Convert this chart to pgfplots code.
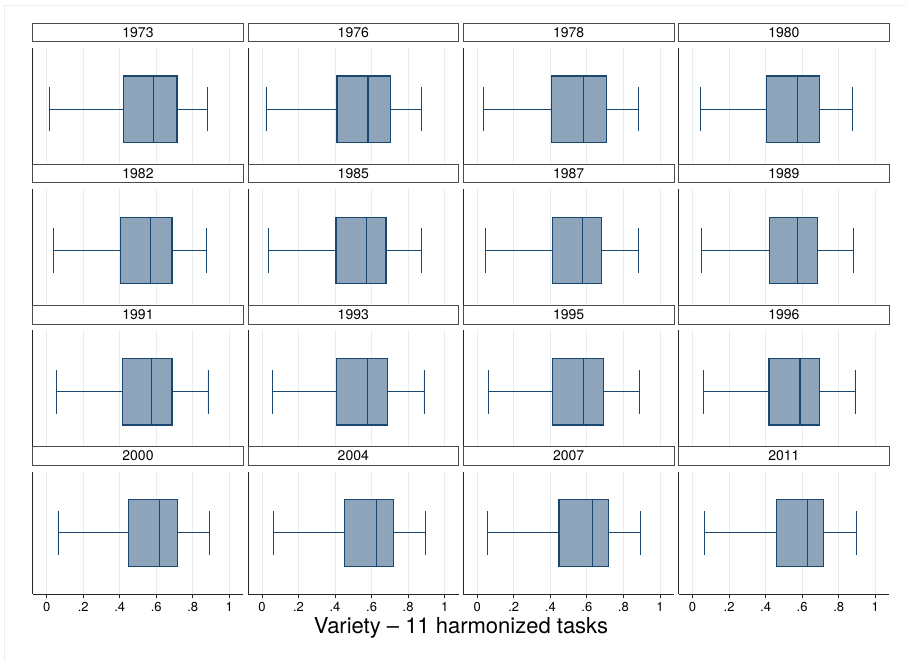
\documentclass[border=0pt]{standalone}
\usepackage{pgfplots}
\pgfplotsset{compat=1.18}
\usepgfplotslibrary{statistics}
\usepackage{fontspec}
\setmainfont{TeX Gyre Heros}
\definecolor{boxfill}{RGB}{142,164,186}
\definecolor{navy}{RGB}{26,71,111}
\definecolor{gridc}{RGB}{228,237,240}
\definecolor{framec}{RGB}{232,240,241}
\pgfplotsset{
  panel/.style={
    scale only axis, width=210.6pt, height=122.7pt,
    anchor=south west,
    xmin=-0.0765, xmax=1.0765, ymin=0, ymax=1,
    axis lines*=left,
    ytick=\empty,
    xtick={0,0.2,0.4,0.6,0.8,1},
    xmajorgrids, grid style={gridc, line width=0.8pt},
    axis line style={black!85, line width=0.8pt},
    title style={at={(0.5,1)}, anchor=south, draw=black!70, line width=0.8pt,
      fill=white, minimum width=210.6pt, minimum height=18.6pt, inner sep=0pt,
      font=\fontsize{14}{14}\selectfont, yshift=0pt},
  },
  toprow/.style={x axis line style={draw=none}, xticklabels={}, major tick length=0pt},
  botrow/.style={xticklabels={0,.2,.4,.6,.8,1}, tick align=outside, major tick length=4pt,
    xticklabel style={font=\fontsize{13}{13}\selectfont},
    tick style={black!85, line width=0.8pt}},
}
\newcommand\panel[9]{%
\begin{axis}[panel,#3,title={#4},
  at={({32.7pt+215.3pt*#1},{661pt-170.7pt-141.2pt*#2})}]
\addplot[draw=navy, fill=boxfill, line width=1.2pt,
  boxplot/every whisker/.style={line width=0.9pt},
  boxplot/every median/.style={line width=1.2pt},
  boxplot prepared={lower whisker=#5, lower quartile=#6, median=#7,
    upper quartile=#8, upper whisker=#9, draw position=0.5,
    box extend=0.543, whisker extend=0.36, draw direction=x}] coordinates {};
\end{axis}}
\begin{document}
\begin{tikzpicture}
\useasboundingbox (0,0) rectangle (906pt,661pt);
\fill[white] (0,0) rectangle (906pt,661pt);
\draw[framec, line width=1pt] (4pt,0) -- (4pt,655.5pt) -- (906pt,655.5pt);
\panel{0}{0}{toprow}{1973}{0.016}{0.422}{0.583}{0.714}{0.882}
\panel{1}{0}{toprow}{1976}{0.022}{0.411}{0.580}{0.703}{0.874}
\panel{2}{0}{toprow}{1978}{0.033}{0.408}{0.581}{0.708}{0.885}
\panel{3}{0}{toprow}{1980}{0.042}{0.404}{0.574}{0.694}{0.878}
\panel{0}{1}{toprow}{1982}{0.036}{0.404}{0.570}{0.686}{0.874}
\panel{1}{1}{toprow}{1985}{0.034}{0.405}{0.571}{0.679}{0.872}
\panel{2}{1}{toprow}{1987}{0.047}{0.411}{0.577}{0.681}{0.880}
\panel{3}{1}{toprow}{1989}{0.049}{0.421}{0.576}{0.683}{0.880}
\panel{0}{2}{toprow}{1991}{0.056}{0.417}{0.575}{0.686}{0.883}
\panel{1}{2}{toprow}{1993}{0.060}{0.407}{0.579}{0.689}{0.887}
\panel{2}{2}{toprow}{1995}{0.062}{0.413}{0.583}{0.692}{0.889}
\panel{3}{2}{toprow}{1996}{0.060}{0.418}{0.588}{0.694}{0.889}
\panel{0}{3}{botrow}{2000}{0.062}{0.446}{0.618}{0.716}{0.893}
\panel{1}{3}{botrow}{2004}{0.061}{0.454}{0.629}{0.720}{0.893}
\panel{2}{3}{botrow}{2007}{0.056}{0.447}{0.630}{0.717}{0.895}
\panel{3}{3}{botrow}{2011}{0.067}{0.460}{0.629}{0.718}{0.895}
\node[font=\fontsize{22}{22}\selectfont] at (461pt,{661pt-628pt}) {Variety -- 11 harmonized tasks};
\end{tikzpicture}
\end{document}
